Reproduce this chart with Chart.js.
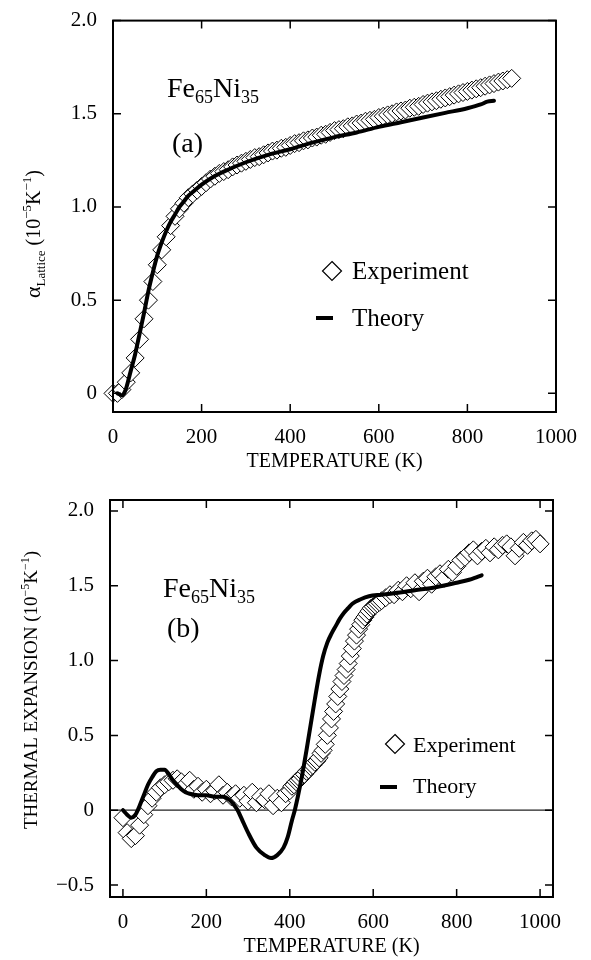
<!DOCTYPE html>
<html>
<head>
<meta charset="utf-8">
<script src="https://cdn.jsdelivr.net/npm/chart.js@4.4.1/dist/chart.umd.min.js"></script>
<style>
  body { margin: 0; background: #fff; }
  #wrapA { position: absolute; left: 0; top: 0; width: 591px; height: 475px; }
  #wrapB { position: absolute; left: 0; top: 475px; width: 591px; height: 485px; }
</style>
</head>
<body>
<div id="wrapA"><canvas id="chartA"></canvas></div>
<div id="wrapB"><canvas id="chartB"></canvas></div>
<script>
// ---- panel (a): lattice expansion ----
const tempsExpA = [0,10,20,30,40,50,60,70,80,90,100,110,120,130,140,150,160,170,180,190,
  200,210,220,230,240,250,260,270,280,290,300,310,320,330,340,350,360,370,380,390,
  400,410,420,430,440,450,460,470,480,490,500,510,520,530,540,550,560,570,580,590,
  600,610,620,630,640,650,660,670,680,690,700,710,720,730,740,750,760,770,780,790,
  800,810,820,830,840,850,860,870,880,890,900];
const valsExpA = [0.00,0.00,0.02,0.06,0.11,0.19,0.29,0.40,0.50,0.60,
  0.69,0.77,0.84,0.90,0.95,0.99,1.02,1.05,1.07,1.09,
  1.11,1.13,1.15,1.165,1.18,1.19,1.20,1.215,1.225,1.235,
  1.245,1.255,1.265,1.27,1.28,1.29,1.30,1.305,1.315,1.32,
  1.33,1.34,1.345,1.355,1.36,1.37,1.375,1.385,1.39,1.40,
  1.41,1.415,1.42,1.43,1.435,1.445,1.45,1.46,1.465,1.47,
  1.48,1.487,1.494,1.50,1.51,1.515,1.52,1.53,1.535,1.54,
  1.55,1.557,1.564,1.57,1.578,1.585,1.592,1.60,1.607,1.614,
  1.62,1.627,1.634,1.64,1.648,1.655,1.662,1.67,1.676,1.683,
  1.69];
const tempsThA = [10,20,25,30,40,50,60,70,80,90,100,110,120,130,140,150,160,170,180,200,
  225,250,300,350,400,450,500,550,600,650,700,750,800,830,845,860];
const valsThA = [0.00,-0.01,0.00,0.03,0.12,0.21,0.32,0.43,0.55,0.65,0.74,0.81,0.87,0.92,0.96,1.00,1.03,1.06,1.08,1.12,
  1.16,1.19,1.24,1.28,1.31,1.345,1.375,1.40,1.43,1.455,1.48,1.505,1.53,1.55,1.565,1.57];
const xTicksA = [0,200,400,600,800,1000];
const yTicksA = [0,0.5,1.0,1.5,2.0];

// ---- panel (b): total thermal expansion ----
const tempsExpB = [0,10,20,30,40,50,60,70,80,90,100,110,120,130,140,150,160,170,180,190,
  200,210,220,230,240,250,260,270,280,290,300,310,320,330,340,350,360,370,380,390,
  400,405,410,415,420,425,430,435,440,445,450,455,460,465,470,475,480,485,490,495,
  500,505,510,515,520,525,530,535,540,545,550,555,560,565,570,575,580,585,590,595,
  600,605,610,615,620,
  630,640,650,660,670,680,690,700,710,720,730,740,750,760,770,780,790,800,810,820,
  830,840,850,860,870,880,890,900,910,920,930,940,950,960,970,980,990,1000];
const valsExpB = [-0.05,-0.15,-0.19,-0.17,-0.10,-0.03,0.03,0.08,0.12,0.15,
  0.17,0.19,0.20,0.21,0.19,0.17,0.20,0.14,0.16,0.12,
  0.14,0.11,0.13,0.17,0.10,0.12,0.09,0.11,0.08,0.10,
  0.06,0.12,0.05,0.09,0.07,0.11,0.03,0.08,0.05,0.11,
  0.13,0.16,0.17,0.19,0.20,0.21,0.23,0.24,0.26,0.27,
  0.29,0.30,0.32,0.33,0.35,0.38,0.40,0.44,0.50,0.55,
  0.61,0.66,0.71,0.76,0.81,0.86,0.90,0.94,0.98,1.03,
  1.08,1.13,1.17,1.21,1.24,1.27,1.29,1.31,1.33,1.35,
  1.36,1.37,1.38,1.39,1.40,
  1.42,1.44,1.44,1.47,1.46,1.50,1.48,1.52,1.46,1.53,1.55,1.51,1.56,1.58,1.55,1.61,1.59,1.63,1.67,1.69,
  1.72,1.74,1.70,1.73,1.75,1.72,1.76,1.74,1.77,1.78,1.76,1.70,1.75,1.79,1.77,1.80,1.81,1.78];
const tempsThB = [0,10,20,30,40,50,60,70,80,90,100,110,120,130,140,150,160,180,200,220,
  240,255,265,275,285,300,320,340,355,370,385,395,405,412,420,430,440,450,460,470,
  480,490,500,510,520,530,540,550,570,590,620,650,700,750,800,830,850,860];
const valsThB = [0.00,-0.03,-0.05,-0.03,0.03,0.10,0.17,0.22,0.26,0.27,0.27,0.24,0.20,0.17,0.14,0.12,0.11,0.10,0.10,0.09,
  0.09,0.07,0.04,0.00,-0.06,-0.15,-0.25,-0.30,-0.32,-0.30,-0.25,-0.18,-0.07,0.00,0.10,0.24,0.40,0.57,0.74,0.90,
  1.03,1.12,1.18,1.23,1.28,1.32,1.35,1.38,1.41,1.43,1.44,1.45,1.47,1.49,1.52,1.54,1.56,1.57];
const xTicksB = [0,200,400,600,800,1000];
const yTicksB = [-0.5,0,0.5,1.0,1.5,2.0];

const SERIF = '"Liberation Serif", "Times New Roman", serif';

function toPoints(xs, ys) {
  return xs.map((x, i) => ({ x: x, y: ys[i] }));
}

function fmtTick(v) {
  if (v === 0) return "0";
  if (Number.isInteger(v) && Math.abs(v) >= 10) return String(v);
  return v.toFixed(1).replace("-", "\u2212");
}

// text made of pieces with their own size and vertical shift (sub/superscripts)
function richText(ctx, x, y, parts, centered) {
  let total = 0;
  parts.forEach((p) => {
    ctx.font = `${p.size}px ${SERIF}`;
    p.w = ctx.measureText(p.text).width;
    total += p.w;
  });
  let cx = centered ? x - total / 2 : x;
  ctx.textAlign = "left";
  ctx.textBaseline = "alphabetic";
  parts.forEach((p) => {
    ctx.font = `${p.size}px ${SERIF}`;
    ctx.fillText(p.text, cx, y + (p.dy || 0));
    cx += p.w;
  });
}

function makeDecor(cfg) {
  return {
    id: "decor" + cfg.name,
    beforeDatasetsDraw(chart) {
      if (!cfg.zeroLine) return;
      const { ctx, chartArea, scales } = chart;
      const y0 = scales.y.getPixelForValue(0);
      ctx.save();
      ctx.strokeStyle = "#222";
      ctx.lineWidth = 1.2;
      ctx.beginPath();
      ctx.moveTo(chartArea.left, y0);
      ctx.lineTo(chartArea.right, y0);
      ctx.stroke();
      ctx.restore();
    },
    afterDatasetsDraw(chart) {
      const { ctx, chartArea: a, scales } = chart;
      ctx.save();
      ctx.fillStyle = "#000";
      ctx.strokeStyle = "#000";

      // frame
      ctx.lineWidth = 2;
      ctx.strokeRect(a.left, a.top, a.right - a.left, a.bottom - a.top);

      // inward ticks on all four sides
      const len = 8;
      ctx.lineWidth = 1.5;
      ctx.beginPath();
      cfg.xTicks.forEach((v) => {
        const px = scales.x.getPixelForValue(v);
        ctx.moveTo(px, a.bottom);
        ctx.lineTo(px, a.bottom - len);
        ctx.moveTo(px, a.top);
        ctx.lineTo(px, a.top + len);
      });
      cfg.yTicks.forEach((v) => {
        const py = scales.y.getPixelForValue(v);
        ctx.moveTo(a.left, py);
        ctx.lineTo(a.left + len, py);
        ctx.moveTo(a.right, py);
        ctx.lineTo(a.right - len, py);
      });
      ctx.stroke();

      // alloy label and panel letter
      richText(ctx, cfg.alloy.x, cfg.alloy.y, [
        { text: "Fe", size: 28 },
        { text: "65", size: 18, dy: 6 },
        { text: "Ni", size: 28 },
        { text: "35", size: 18, dy: 6 }
      ], false);
      richText(ctx, cfg.panel.x, cfg.panel.y, [{ text: cfg.panel.text, size: 28 }], false);

      // legend
      const lg = cfg.legend;
      ctx.lineWidth = 1.2;
      ctx.fillStyle = "#fff";
      ctx.beginPath();
      ctx.moveTo(lg.dx, lg.dy - lg.r);
      ctx.lineTo(lg.dx + lg.r, lg.dy);
      ctx.lineTo(lg.dx, lg.dy + lg.r);
      ctx.lineTo(lg.dx - lg.r, lg.dy);
      ctx.closePath();
      ctx.fill();
      ctx.stroke();
      ctx.fillStyle = "#000";
      ctx.lineWidth = 4;
      ctx.beginPath();
      ctx.moveTo(lg.lx1, lg.ly);
      ctx.lineTo(lg.lx2, lg.ly);
      ctx.stroke();
      richText(ctx, lg.tx, lg.ty1, [{ text: "Experiment", size: lg.size }], false);
      richText(ctx, lg.tx, lg.ty2, [{ text: "Theory", size: lg.size }], false);

      // x axis title
      richText(ctx, (a.left + a.right) / 2, cfg.xTitleY, [{ text: "TEMPERATURE (K)", size: 20 }], true);

      // y axis title, rotated
      ctx.translate(cfg.yTitle.x, cfg.yTitle.y);
      ctx.rotate(-Math.PI / 2);
      richText(ctx, 0, 0, cfg.yTitle.parts, true);
      ctx.restore();
    }
  };
}

function makeChart(canvasId, opt) {
  return new Chart(document.getElementById(canvasId), {
    type: "scatter",
    data: {
      datasets: [
        {
          label: "Theory",
          data: opt.theory,
          showLine: true,
          borderColor: "#000",
          borderWidth: 4,
          borderCapStyle: "round",
          cubicInterpolationMode: "monotone",
          pointRadius: 0,
          clip: false
        },
        {
          label: "Experiment",
          data: opt.experiment,
          showLine: false,
          pointStyle: "rectRot",
          pointRadius: 9,
          pointBackgroundColor: "#fff",
          pointBorderColor: "#000",
          pointBorderWidth: 1,
          clip: false
        }
      ]
    },
    options: {
      responsive: true,
      maintainAspectRatio: false,
      animation: false,
      events: [],
      layout: { padding: opt.padding },
      plugins: {
        legend: { display: false },
        tooltip: { enabled: false }
      },
      scales: {
        x: {
          type: "linear",
          min: opt.xMin,
          max: opt.xMax,
          afterBuildTicks: (s) => { s.ticks = opt.xTicks.map((v) => ({ value: v })); },
          afterFit: (s) => { s.height = opt.xHeight; },
          grid: { display: false },
          border: { display: false },
          ticks: {
            color: "#000",
            padding: 5,
            maxRotation: 0,
            autoSkip: false,
            font: { family: SERIF, size: 21 },
            callback: (v) => fmtTick(v)
          }
        },
        y: {
          type: "linear",
          min: opt.yMin,
          max: opt.yMax,
          afterBuildTicks: (s) => { s.ticks = opt.yTicks.map((v) => ({ value: v })); },
          afterFit: (s) => { s.width = opt.yWidth; },
          grid: { display: false },
          border: { display: false },
          ticks: {
            color: "#000",
            padding: 8,
            autoSkip: false,
            font: { family: SERIF, size: 21 },
            callback: (v) => fmtTick(v)
          }
        }
      }
    },
    plugins: [opt.decor]
  });
}

makeChart("chartA", {
  theory: toPoints(tempsThA, valsThA),
  experiment: toPoints(tempsExpA, valsExpA),
  xMin: 0, xMax: 1000, yMin: -0.1, yMax: 2.0,
  xTicks: xTicksA, yTicks: yTicksA,
  padding: { left: 0, right: 35, top: 15, bottom: 0 },
  xHeight: 63, yWidth: 113,
  decor: makeDecor({
    name: "A",
    xTicks: xTicksA, yTicks: yTicksA,
    zeroLine: false,
    alloy: { x: 167, y: 97 },
    panel: { x: 172, y: 152, text: "(a)" },
    legend: { dx: 332, dy: 271, r: 9.5, lx1: 316, lx2: 333, ly: 318, tx: 352, ty1: 279, ty2: 326, size: 25 },
    xTitleY: 467,
    yTitle: {
      x: 40, y: 234,
      parts: [
        { text: "\u03b1", size: 22 },
        { text: "Lattice", size: 13, dy: 5 },
        { text: " (10", size: 20 },
        { text: "\u22125", size: 13, dy: -9 },
        { text: "K", size: 20 },
        { text: "\u22121", size: 13, dy: -9 },
        { text: ")", size: 20 }
      ]
    }
  })
});

makeChart("chartB", {
  theory: toPoints(tempsThB, valsThB),
  experiment: toPoints(tempsExpB, valsExpB),
  xMin: -31, xMax: 1031, yMin: -0.58, yMax: 2.073,
  xTicks: xTicksB, yTicks: yTicksB,
  padding: { left: 0, right: 38, top: 25, bottom: 0 },
  xHeight: 63, yWidth: 110,
  decor: makeDecor({
    name: "B",
    xTicks: xTicksB, yTicks: yTicksB,
    zeroLine: true,
    alloy: { x: 163, y: 122 },
    panel: { x: 167, y: 162, text: "(b)" },
    legend: { dx: 395, dy: 269, r: 9.5, lx1: 380, lx2: 397, ly: 312, tx: 413, ty1: 277, ty2: 318, size: 22 },
    xTitleY: 477,
    yTitle: {
      x: 37, y: 215,
      parts: [
        { text: "THERMAL EXPANSION (10", size: 19 },
        { text: "\u22125", size: 12, dy: -8 },
        { text: "K", size: 19 },
        { text: "\u22121", size: 12, dy: -8 },
        { text: ")", size: 19 }
      ]
    }
  })
});
</script>
</body>
</html>
